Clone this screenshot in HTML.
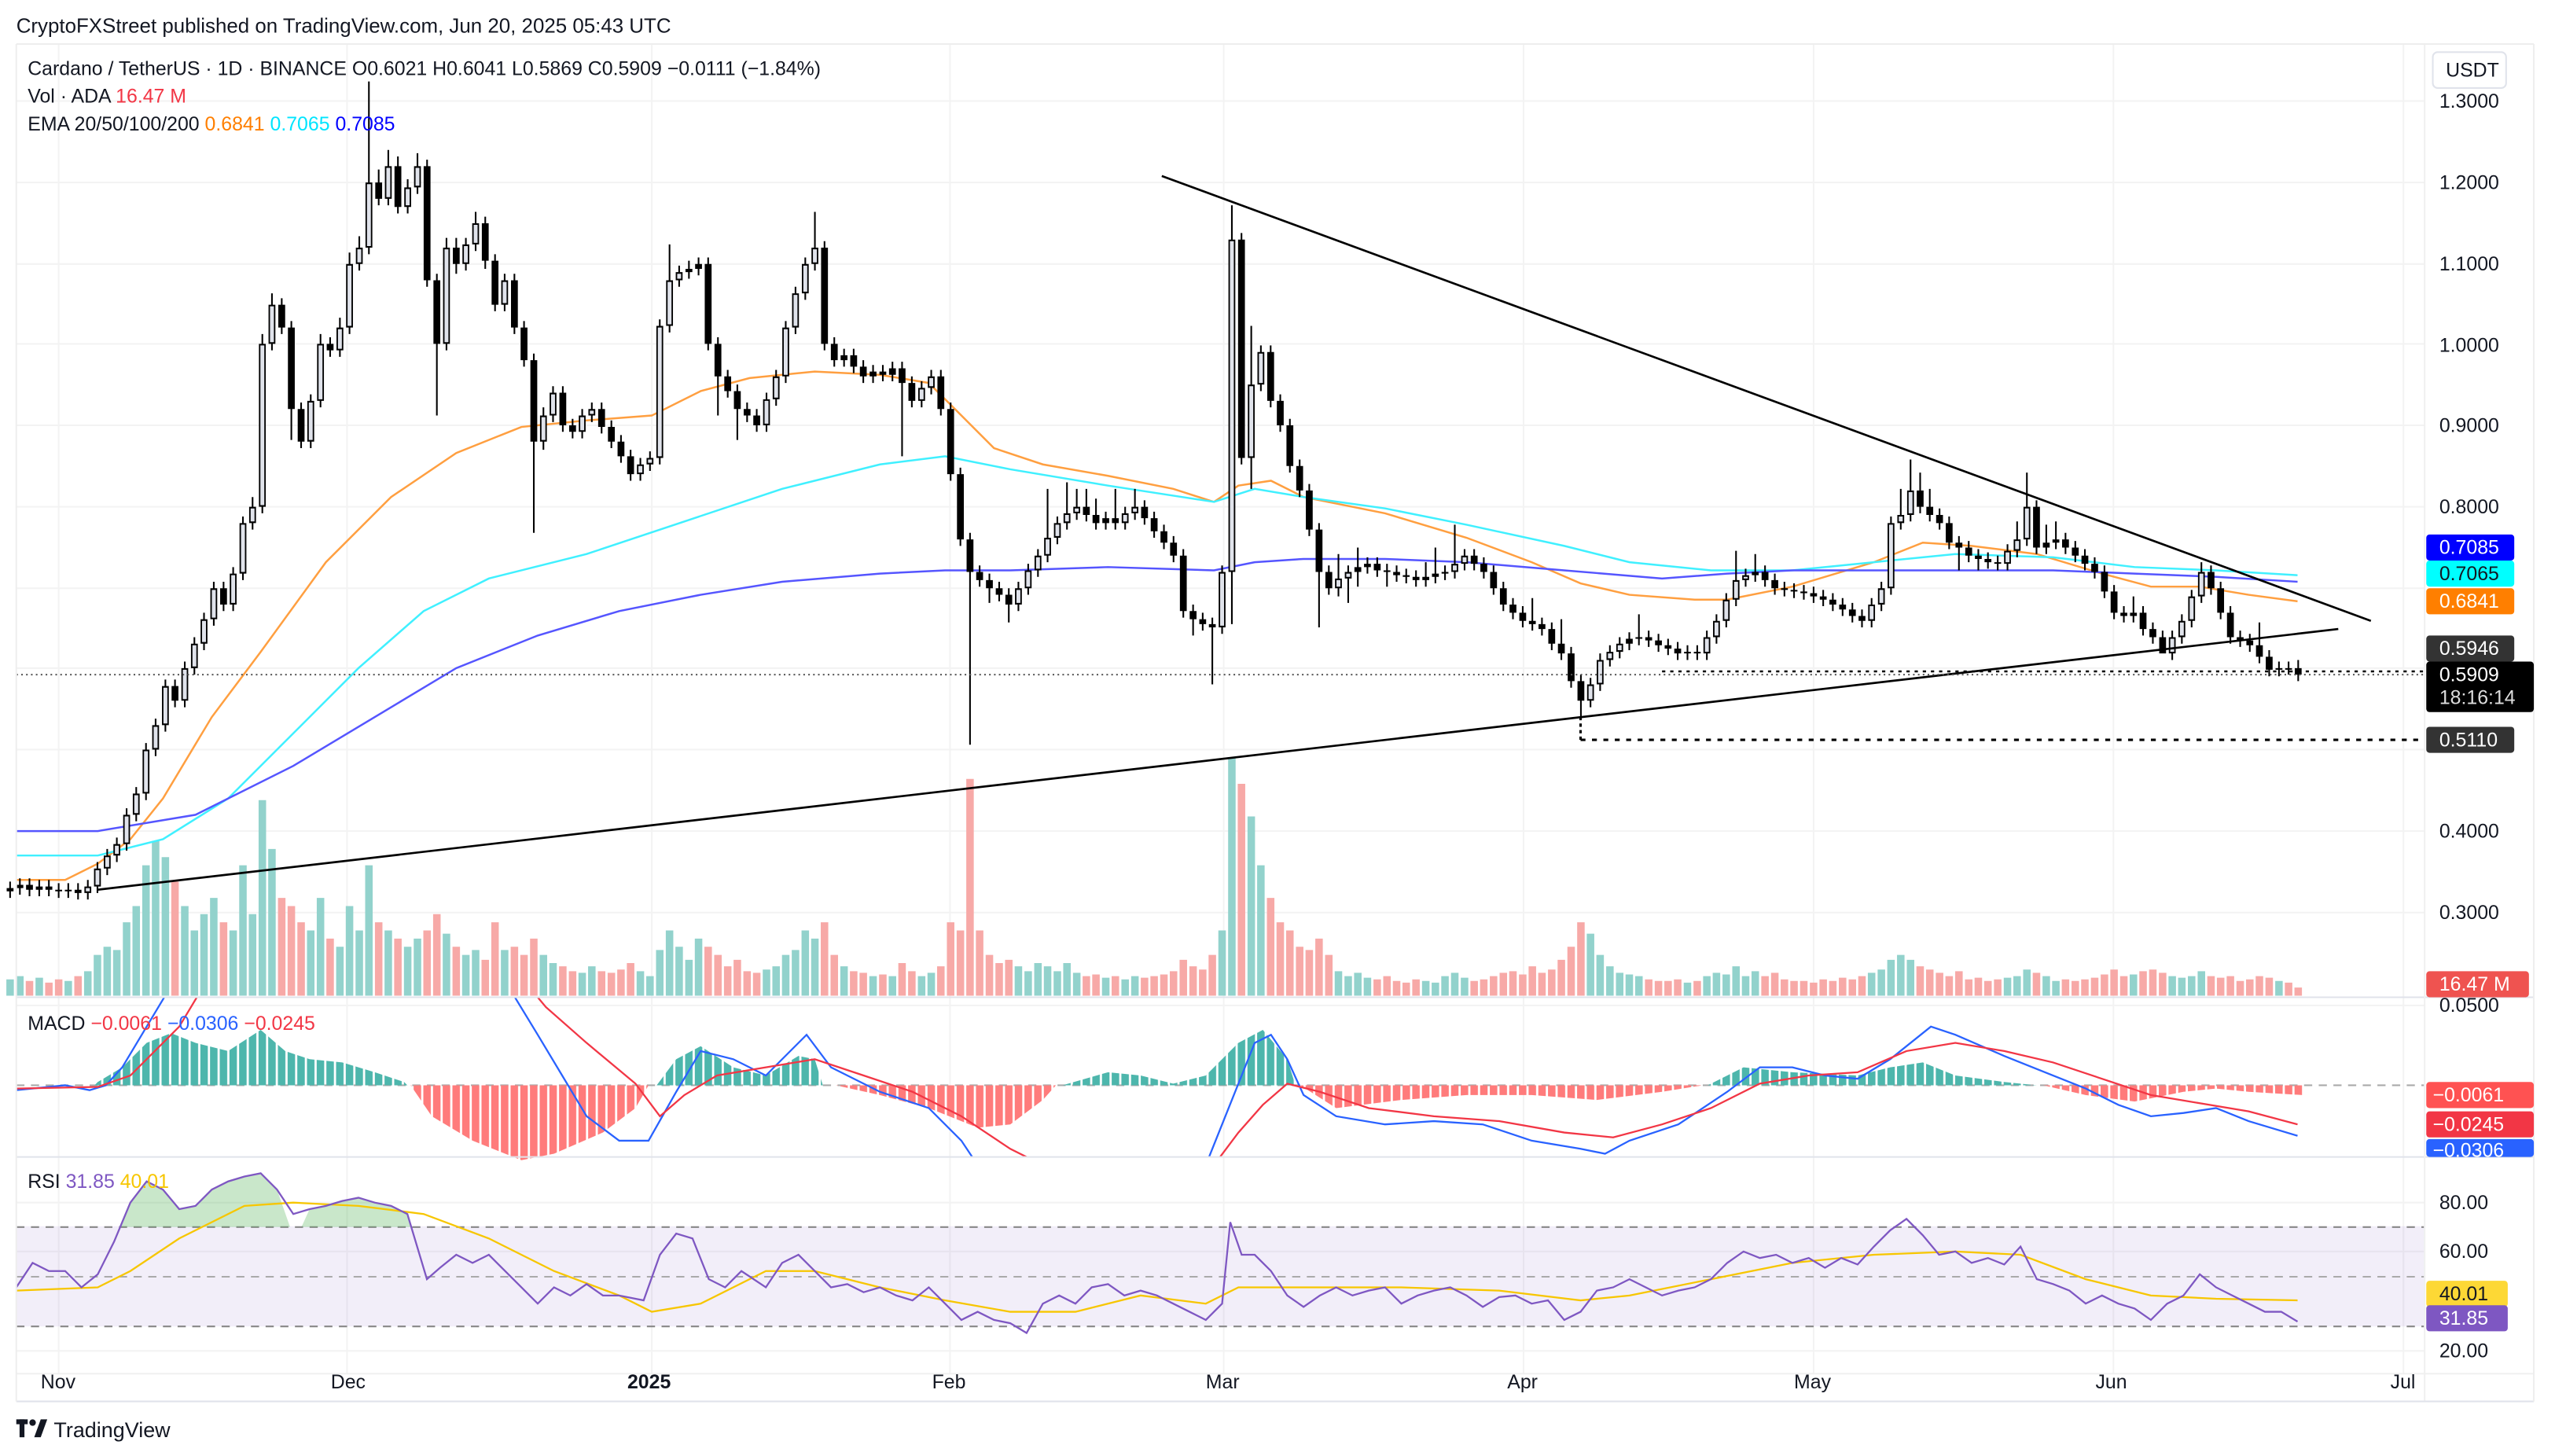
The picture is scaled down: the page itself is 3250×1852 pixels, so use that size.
<!DOCTYPE html>
<html><head><meta charset="utf-8"><style>
html,body{margin:0;padding:0;background:#fff;}
svg{display:block;font-family:"Liberation Sans",sans-serif;}
</style></head><body>
<svg width="3250" height="1852" viewBox="0 0 1568 893.5" preserveAspectRatio="none" xmlns="http://www.w3.org/2000/svg">
<defs>
<pattern id="pp" patternUnits="userSpaceOnUse" x="3.95" y="0" width="5.95" height="900"><rect x="0" y="0" width="4.6" height="900" fill="#4db6ac"/></pattern>
<pattern id="pn" patternUnits="userSpaceOnUse" x="3.95" y="0" width="5.95" height="900"><rect x="0" y="0" width="4.6" height="900" fill="#ff7b7b"/></pattern>
<clipPath id="mc"><rect x="10" y="612" width="1478" height="98"/></clipPath>
</defs>
<rect width="1568" height="893.5" fill="#fff"/>
<g stroke="#f3f3f3" stroke-width="1">
<path d="M10 62H1488M10 112H1488M10 162H1488M10 211H1488M10 261H1488M10 311H1488M10 361H1488M10 410H1488M10 460H1488M10 510H1488M10 560H1488M10 617H1488M10 738H1488M10 768H1488M10 829H1488"/>
<path d="M36 27V843M213 27V843M400 27V843M583 27V843M751 27V843M935 27V843M1113 27V843M1297 27V843M1475 27V843"/>
</g>
<rect x="10" y="752.5" width="1478" height="61.5" fill="#7e57c2" fill-opacity="0.1"/>

<!-- volume -->
<path fill="none" stroke="#92d2cc" stroke-width="4.6" d="M6.2 611V601M12.2 611V599M24.1 611V600M41.9 611V602M53.9 611V596M59.8 611V586M65.8 611V581M71.7 611V583M77.7 611V566M83.6 611V556M89.6 611V531M95.5 611V516M101.5 611V526M113.4 611V556M119.3 611V571M125.2 611V561M131.2 611V551M143.1 611V571M149.1 611V531M155.0 611V561M161.0 611V491M166.9 611V521M190.7 611V571M196.7 611V551M208.6 611V581M214.5 611V556M220.5 611V571M226.4 611V531M238.3 611V571M250.2 611V581M256.2 611V576M274.0 611V573M285.9 611V586M291.9 611V583M309.7 611V583M333.5 611V586M339.4 611V591M357.3 611V597M363.2 611V593M393.0 611V596M398.9 611V599M404.9 611V583M410.9 611V571M416.8 611V581M422.8 611V589M428.7 611V576M470.4 611V595M476.3 611V593M482.2 611V586M488.2 611V583M494.2 611V571M500.1 611V576M518.0 611V593M535.8 611V599M547.7 611V599M565.6 611V599M571.5 611V597M625.0 611V593M631.0 611V596M637.0 611V591M642.9 611V593M648.9 611V596M654.8 611V591M660.8 611V597M678.6 611V600M690.5 611V601M696.5 611V599M750.0 611V571M756.0 611V465M767.9 611V501M773.8 611V531M821.4 611V596M827.4 611V599M833.3 611V597M839.2 611V600M875.0 611V602M880.9 611V603M886.8 611V599M892.8 611V597M898.8 611V600M976.1 611V573M982.0 611V586M988.0 611V593M994.0 611V597M999.9 611V598M1005.8 611V599M1035.6 611V603M1047.5 611V599M1053.4 611V597M1059.4 611V598M1065.4 611V593M1071.3 611V599M1077.2 611V596M1148.6 611V597M1154.6 611V595M1160.5 611V589M1166.5 611V586M1172.5 611V589M1232.0 611V600M1237.9 611V599M1243.9 611V595M1255.8 611V599M1261.7 611V602M1309.3 611V598M1333.1 611V599M1339.0 611V600M1345.0 611V599M1351.0 611V596M1398.6 611V602"/>
<path fill="none" stroke="#f7a9a7" stroke-width="4.6" d="M18.1 611V602M30.0 611V603M36.0 611V601M47.9 611V599M107.4 611V541M137.2 611V566M172.9 611V551M178.8 611V556M184.8 611V566M202.6 611V576M232.4 611V566M244.2 611V576M262.1 611V571M268.1 611V561M280.0 611V581M297.8 611V589M303.8 611V566M315.7 611V581M321.6 611V586M327.6 611V576M345.4 611V593M351.4 611V596M369.2 611V596M375.2 611V597M381.1 611V595M387.0 611V591M434.6 611V581M440.6 611V586M446.6 611V593M452.5 611V589M458.5 611V596M464.4 611V597M506.0 611V566M512.0 611V586M523.9 611V596M529.8 611V597M541.8 611V598M553.6 611V591M559.6 611V596M577.4 611V593M583.4 611V566M589.4 611V571M595.3 611V478M601.2 611V571M607.2 611V586M613.2 611V591M619.1 611V589M666.7 611V599M672.6 611V598M684.5 611V599M702.4 611V600M708.3 611V599M714.3 611V598M720.2 611V596M726.2 611V589M732.2 611V593M738.1 611V595M744.0 611V586M761.9 611V481M779.8 611V551M785.7 611V566M791.6 611V571M797.6 611V581M803.5 611V583M809.5 611V576M815.5 611V586M845.2 611V601M851.2 611V599M857.1 611V602M863.0 611V603M869.0 611V601M904.7 611V602M910.6 611V601M916.6 611V599M922.6 611V597M928.5 611V596M934.5 611V598M940.4 611V593M946.3 611V597M952.3 611V595M958.2 611V589M964.2 611V581M970.2 611V566M1011.8 611V601M1017.8 611V602M1023.7 611V602M1029.6 611V601M1041.6 611V602M1083.2 611V599M1089.2 611V597M1095.1 611V601M1101.0 611V602M1107.0 611V602M1113.0 611V603M1118.9 611V601M1124.8 611V602M1130.8 611V600M1136.8 611V601M1142.7 611V599M1178.4 611V593M1184.3 611V595M1190.3 611V597M1196.2 611V599M1202.2 611V596M1208.2 611V601M1214.1 611V600M1220.0 611V602M1226.0 611V601M1249.8 611V597M1267.6 611V601M1273.6 611V602M1279.5 611V601M1285.5 611V600M1291.5 611V598M1297.4 611V595M1303.4 611V599M1315.2 611V596M1321.2 611V595M1327.2 611V597M1356.9 611V599M1362.8 611V600M1368.8 611V599M1374.8 611V602M1380.7 611V601M1386.6 611V599M1392.6 611V600M1404.5 611V603M1410.4 611V606"/>

<!-- EMA lines -->
<g fill="none" stroke-width="1.2">
<polyline stroke="#ff9f40" points="10,540 40,540 60,530 80,515 100,490 130,440 160,400 200,345 240,305 280,278 320,262 360,258 400,255 430,240 460,232 500,228 540,230 570,235 590,255 610,275 640,285 680,292 720,300 745,308 760,298 780,295 800,305 850,315 900,330 940,345 970,358 1000,365 1040,368 1060,368 1100,360 1150,345 1180,333 1210,335 1250,340 1290,352 1320,360 1350,360 1380,365 1410,369"/>
<polyline stroke="#40f0ff" points="10,525 60,525 100,515 140,490 180,450 220,410 260,375 300,355 360,340 420,320 480,300 540,285 580,280 620,288 680,298 745,308 770,300 800,305 850,312 900,322 960,335 1000,345 1050,350 1100,350 1150,345 1200,340 1260,342 1310,348 1360,350 1410,353"/>
<polyline stroke="#5555ff" points="10,510 60,510 120,500 180,470 230,440 280,410 330,390 380,375 430,365 480,357 540,352 580,350 620,350 680,348 745,350 770,345 800,343 850,343 900,345 960,350 1020,355 1060,352 1100,350 1160,350 1200,350 1260,350 1310,352 1360,354 1410,357"/>
</g>

<!-- candles: wicks -->
<path fill="none" stroke="#000" stroke-width="1" d="M6.2 541V551M12.2 539V549M18.1 539V550M24.1 540V550M30.0 540V550M36.0 542V551M41.9 542V551M47.9 542V552M53.9 540V552M59.8 529V548M65.8 521V537M71.7 514V529M77.7 496V522M83.6 483V504M89.6 456V491M95.5 441V464M101.5 417V449M107.4 417V434M113.4 406V434M119.3 391V414M125.2 376V399M131.2 357V384M137.2 357V375M143.1 348V375M149.1 317V356M155.0 305V325M161.0 205V315M166.9 180V215M172.9 183V205M178.8 197V270M184.8 247V275M190.7 242V275M196.7 205V250M202.6 207V219M208.6 195V219M214.5 155V205M220.5 145V166M226.4 50V156M232.4 104V126M238.3 92V126M244.2 96V131M250.2 110V131M256.2 94V119M262.1 98V176M268.1 168V255M274.0 146V215M280.0 146V168M285.9 146V166M291.9 130V154M297.8 133V165M303.8 156V191M309.7 168V191M315.7 168V205M321.6 197V225M327.6 217V327M333.5 250V276M339.4 237V259M345.4 237V265M351.4 257V269M357.3 251V269M363.2 247V259M369.2 247V266M375.2 258V275M381.1 267V284M387.0 276V295M393.0 281V295M398.9 277V289M404.9 196V285M410.9 150V204M416.8 163V176M422.8 160V171M428.7 158V169M434.6 158V215M440.6 207V255M446.6 227V244M452.5 236V270M458.5 247V259M464.4 251V265M470.4 241V265M476.3 227V249M482.2 197V235M488.2 176V205M494.2 158V184M500.1 130V166M506.0 148V215M512.0 207V225M518.0 214V225M523.9 214V229M529.8 221V235M535.8 224V235M541.8 224V234M547.7 222V234M553.6 222V280M559.6 231V250M565.6 234V250M571.5 227V242M577.4 227V255M583.4 247V295M589.4 287V335M595.3 327V457M601.2 347V360M607.2 352V370M613.2 357V369M619.1 361V382M625.0 357V375M631.0 346V365M637.0 337V354M642.9 300V345M648.9 317V334M654.8 296V325M660.8 300V319M666.7 300V320M672.6 306V325M678.6 314V325M684.5 300V325M690.5 311V325M696.5 300V319M702.4 307V322M708.3 314V330M714.3 322V337M720.2 329V345M726.2 337V379M732.2 371V390M738.1 376V387M744.0 379V420M750.0 347V389M756.0 126V383M761.9 143V285M767.9 200V300M773.8 212V240M779.8 212V250M785.7 242V265M791.6 257V290M797.6 282V305M803.5 297V329M809.5 321V385M815.5 347V365M821.4 340V366M827.4 347V370M833.3 336V360M839.2 342V352M845.2 342V354M851.2 346V360M857.1 347V357M863.0 349V358M869.0 350V360M875.0 345V360M880.9 336V358M886.8 347V356M892.8 322V355M898.8 337V350M904.7 337V350M910.6 342V355M916.6 347V365M922.6 357V375M928.5 367V380M934.5 372V385M940.4 367V387M946.3 379V390M952.3 382V399M958.2 380V405M964.2 397V422M970.2 414V440M976.1 416V434M982.0 401V424M988.0 396V409M994.0 391V404M999.9 388V399M1005.8 377V396M1011.8 387V397M1017.8 389V400M1023.7 392V402M1029.6 394V405M1035.6 396V405M1041.6 396V405M1047.5 387V405M1053.4 377V395M1059.4 364V385M1065.4 338V372M1071.3 349V360M1077.2 340V357M1083.2 347V360M1089.2 352V365M1095.1 357V366M1101.0 358V367M1107.0 359V368M1113.0 360V370M1118.9 362V372M1124.8 364V375M1130.8 367V378M1136.8 370V382M1142.7 374V385M1148.6 367V385M1154.6 357V375M1160.5 317V365M1166.5 300V325M1172.5 282V320M1178.4 290V315M1184.3 300V320M1190.3 312V325M1196.2 317V337M1202.2 329V350M1208.2 332V345M1214.1 337V350M1220.0 339V349M1226.0 341V350M1232.0 334V350M1237.9 320V342M1243.9 290V335M1249.8 307V340M1255.8 322V340M1261.7 320V337M1267.6 327V340M1273.6 332V345M1279.5 337V350M1285.5 342V355M1291.5 347V367M1297.4 359V380M1303.4 372V382M1309.3 366V382M1315.2 372V390M1321.2 382V395M1327.2 387V400M1333.1 387V405M1339.0 377V395M1345.0 362V385M1351.0 345V370M1356.9 347V365M1362.8 357V380M1368.8 372V395M1374.8 387V397M1380.7 389V400M1386.6 382V407M1392.6 399V415M1398.6 406V415M1404.5 406V414M1410.4 405V418"/>
<!-- candle bodies (outline / bearish) -->
<path fill="none" stroke="#000" stroke-width="4.2" d="M6.2 545V547M12.2 543V545M18.1 543V546M24.1 544V546M30.0 544V546M36.0 546V547M41.9 546V547M47.9 546V548M53.9 544V548M59.8 533V544M65.8 525V533M71.7 518V525M77.7 500V518M83.6 487V500M89.6 460V487M95.5 445V460M101.5 421V445M107.4 421V430M113.4 410V430M119.3 395V410M125.2 380V395M131.2 361V380M137.2 361V371M143.1 352V371M149.1 321V352M155.0 311V321M161.0 211V311M166.9 187V211M172.9 187V201M178.8 201V251M184.8 251V271M190.7 246V271M196.7 211V246M202.6 211V215M208.6 201V215M214.5 162V201M220.5 152V162M226.4 112V152M232.4 112V122M238.3 102V122M244.2 102V127M250.2 115V127M256.2 102V115M262.1 102V172M268.1 172V211M274.0 152V211M280.0 152V162M285.9 150V162M291.9 137V150M297.8 137V160M303.8 160V187M309.7 172V187M315.7 172V201M321.6 201V221M327.6 221V271M333.5 255V271M339.4 241V255M345.4 241V261M351.4 261V265M357.3 255V265M363.2 251V255M369.2 251V262M375.2 262V271M381.1 271V280M387.0 280V291M393.0 285V291M398.9 281V285M404.9 200V281M410.9 172V200M416.8 167V172M422.8 165V167M428.7 162V165M434.6 162V211M440.6 211V231M446.6 231V240M452.5 240V251M458.5 251V255M464.4 255V261M470.4 245V261M476.3 231V245M482.2 201V231M488.2 180V201M494.2 162V180M500.1 152V162M506.0 152V211M512.0 211V221M518.0 218V221M523.9 218V225M529.8 225V231M535.8 228V231M541.8 228V230M547.7 226V230M553.6 226V235M559.6 235V246M565.6 238V246M571.5 231V238M577.4 231V251M583.4 251V291M589.4 291V331M595.3 331V351M601.2 351V356M607.2 356V361M613.2 361V365M619.1 365V371M625.0 361V371M631.0 350V361M637.0 341V350M642.9 330V341M648.9 321V330M654.8 315V321M660.8 311V315M666.7 311V316M672.6 316V321M678.6 318V321M684.5 318V321M690.5 315V321M696.5 311V315M702.4 311V318M708.3 318V326M714.3 326V333M720.2 333V341M726.2 341V375M732.2 375V380M738.1 380V383M744.0 383V385M750.0 351V385M756.0 147V351M761.9 147V281M767.9 236V281M773.8 216V236M779.8 216V246M785.7 246V261M791.6 261V286M797.6 286V301M803.5 301V325M809.5 325V351M815.5 351V361M821.4 355V361M827.4 351V355M833.3 348V351M839.2 346V348M845.2 346V350M851.2 350V351M857.1 351V353M863.0 353V354M869.0 354V356M875.0 354V356M880.9 352V354M886.8 351V352M892.8 346V351M898.8 341V346M904.7 341V346M910.6 346V351M916.6 351V361M922.6 361V371M928.5 371V376M934.5 376V381M940.4 381V383M946.3 383V386M952.3 386V395M958.2 395V401M964.2 401V418M970.2 418V430M976.1 420V430M982.0 405V420M988.0 400V405M994.0 395V400M999.9 392V395M1005.8 391V392M1011.8 391V393M1017.8 393V396M1023.7 396V398M1029.6 398V401M1035.6 400V401M1041.6 400V401M1047.5 391V401M1053.4 381V391M1059.4 368V381M1065.4 356V368M1071.3 353V356M1077.2 351V353M1083.2 351V356M1089.2 356V361M1095.1 361V362M1101.0 362V363M1107.0 363V364M1113.0 364V366M1118.9 366V368M1124.8 368V371M1130.8 371V374M1136.8 374V378M1142.7 378V381M1148.6 371V381M1154.6 361V371M1160.5 321V361M1166.5 316V321M1172.5 301V316M1178.4 301V311M1184.3 311V316M1190.3 316V321M1196.2 321V333M1202.2 333V336M1208.2 336V341M1214.1 341V343M1220.0 343V345M1226.0 345V346M1232.0 338V346M1237.9 331V338M1243.9 311V331M1249.8 311V336M1255.8 333V336M1261.7 331V333M1267.6 331V336M1273.6 336V341M1279.5 341V346M1285.5 346V351M1291.5 351V363M1297.4 363V376M1303.4 376V378M1309.3 376V378M1315.2 376V386M1321.2 386V391M1327.2 391V401M1333.1 391V401M1339.0 381V391M1345.0 366V381M1351.0 351V366M1356.9 351V361M1362.8 361V376M1368.8 376V391M1374.8 391V393M1380.7 393V396M1386.6 396V403M1392.6 403V411M1398.6 410V411M1404.5 410V411M1410.4 410V414"/>
<!-- bullish inner fill -->
<path fill="none" stroke="#e0e3eb" stroke-width="2.4" d="M53.9 545V547M59.8 534V543M65.8 526V532M71.7 519V524M77.7 501V517M83.6 488V499M89.6 461V486M95.5 446V459M101.5 422V444M113.4 411V429M119.3 396V409M125.2 381V394M131.2 362V379M143.1 353V370M149.1 322V351M155.0 312V320M161.0 212V310M166.9 188V210M190.7 247V270M196.7 212V245M208.6 202V214M214.5 163V200M220.5 153V161M226.4 113V151M238.3 103V121M250.2 116V126M256.2 103V114M274.0 153V210M285.9 151V161M291.9 138V149M309.7 173V186M333.5 256V270M339.4 242V254M357.3 256V264M363.2 252V254M393.0 286V290M398.9 282V284M404.9 201V280M410.9 173V199M416.8 168V171M470.4 246V260M476.3 232V244M482.2 202V230M488.2 181V200M494.2 163V179M500.1 153V161M565.6 239V245M571.5 232V237M625.0 362V370M631.0 351V360M637.0 342V349M642.9 331V340M648.9 322V329M654.8 316V320M660.8 312V314M690.5 316V320M696.5 312V314M750.0 352V384M756.0 148V350M767.9 237V280M773.8 217V235M821.4 356V360M827.4 352V354M892.8 347V350M898.8 342V345M976.1 421V429M982.0 406V419M988.0 401V404M994.0 396V399M1047.5 392V400M1053.4 382V390M1059.4 369V380M1065.4 357V367M1071.3 354V355M1148.6 372V380M1154.6 362V370M1160.5 322V360M1166.5 317V320M1172.5 302V315M1232.0 339V345M1237.9 332V337M1243.9 312V330M1333.1 392V400M1339.0 382V390M1345.0 367V380M1351.0 352V365"/>

<!-- trend lines -->
<line x1="713" y1="108" x2="1455" y2="381" stroke="#000" stroke-width="1.3"/>
<line x1="60" y1="546" x2="1435" y2="386" stroke="#000" stroke-width="1.3"/>
<line x1="10" y1="414" x2="1488" y2="414" stroke="#555" stroke-width="1" stroke-dasharray="1,2"/>
<line x1="1020" y1="412" x2="1488" y2="412" stroke="#000" stroke-width="1.2" stroke-dasharray="2,3"/>
<line x1="970" y1="454" x2="1488" y2="454" stroke="#000" stroke-width="1.5" stroke-dasharray="3,4"/>
<line x1="970" y1="440" x2="970" y2="454" stroke="#000" stroke-width="1.5" stroke-dasharray="2,2"/>

<!-- MACD -->
<line x1="10" y1="666" x2="1488" y2="666" stroke="#aaa" stroke-dasharray="5,4"/>
<polygon fill="url(#pp)" points="58,666 60,664 75,655 90,640 105,634 120,640 140,645 160,632 175,645 190,650 210,652 230,658 248,664 250,666"/>
<polygon fill="url(#pn)" points="252,666 265,685 290,700 320,712 340,708 370,695 390,680 398,666"/>
<polygon fill="url(#pp)" points="403,666 415,650 430,642 450,655 470,660 490,648 500,650 505,666"/>
<polygon fill="url(#pn)" points="513,666 540,672 570,680 600,692 620,690 640,675 648,666"/>
<polygon fill="url(#pp)" points="652,666 680,658 700,660 720,665 740,660 760,640 775,632 790,650 795,666"/>
<polygon fill="url(#pn)" points="798,666 820,680 860,675 900,672 940,672 980,675 1020,670 1045,666"/>
<polygon fill="url(#pp)" points="1048,666 1070,655 1100,658 1140,660 1160,655 1180,652 1200,660 1230,664 1250,666"/>
<polygon fill="url(#pn)" points="1254,666 1280,672 1310,676 1340,670 1360,668 1380,670 1413,672 1413,666"/>
<g clip-path="url(#mc)" fill="none" stroke-width="1.1">
<polyline stroke="#2962ff" points="10,669 40,666 55,669 65,666 75,655 90,630 105,605 115,590 300,590 316,612 330,635 345,660 360,685 380,700 398,700 415,670 430,645 450,650 470,660 495,635 510,655 540,670 570,680 590,700 600,715 740,715 750,690 760,665 770,640 780,635 790,650 800,672 820,685 850,690 880,688 910,690 940,700 970,705 985,708 1000,700 1030,690 1060,670 1080,655 1100,655 1120,660 1140,662 1160,650 1185,630 1200,635 1230,648 1260,660 1280,668 1300,678 1320,685 1340,683 1360,680 1380,688 1410,697"/>
<polyline stroke="#f23645" points="10,668 60,667 80,660 110,630 125,605 320,600 335,618 360,640 390,665 405,685 420,672 440,660 470,655 500,650 530,660 560,670 590,685 620,705 640,715 745,715 760,695 775,678 790,665 810,670 840,680 880,685 920,688 960,695 990,698 1020,690 1050,680 1080,665 1110,660 1140,658 1170,645 1200,640 1230,645 1260,652 1290,662 1320,672 1350,677 1380,682 1410,690"/>
</g>

<!-- RSI -->
<line x1="10" y1="753" x2="1488" y2="753" stroke="#888" stroke-dasharray="5,4"/>
<line x1="10" y1="783.5" x2="1488" y2="783.5" stroke="#aaa" stroke-dasharray="5,4"/>
<line x1="10" y1="814" x2="1488" y2="814" stroke="#888" stroke-dasharray="5,4"/>
<polygon fill="#4caf50" fill-opacity="0.3" points="74,753 80,738 90,725 100,730 110,742 120,740 130,730 140,725 150,722 160,720 170,730 178,753 185,753 190,742 200,740 210,737 220,735 230,738 240,740 250,745 252,753"/>
<polyline fill="none" stroke="#f7c600" stroke-width="1.1" points="10,792 60,790 80,780 110,760 150,740 180,738 220,740 260,745 300,760 340,780 380,795 400,805 430,800 470,780 500,780 540,790 580,798 620,805 660,805 700,795 740,800 760,790 800,790 860,790 920,792 970,798 1000,795 1050,785 1100,775 1150,770 1200,768 1240,770 1280,785 1320,795 1360,797 1410,798"/>
<polyline fill="none" stroke="#7e57c2" stroke-width="1.1" points="10,790 20,775 30,780 40,780 50,790 60,782 70,762 80,738 90,725 100,730 110,742 120,740 130,730 140,725 150,722 160,720 170,730 180,745 190,742 200,740 210,737 220,735 230,738 240,740 250,745 262,785 270,778 280,770 290,775 300,770 320,790 330,800 340,790 350,795 360,788 370,795 380,795 395,798 405,770 415,757 425,760 435,785 445,790 455,780 470,790 480,775 490,770 500,780 510,790 520,788 530,793 540,790 550,795 560,798 570,790 580,800 590,810 600,805 610,810 620,812 630,818 640,800 650,795 660,800 670,790 680,788 690,795 700,792 710,795 720,800 730,805 740,810 750,800 755,750 762,770 770,770 780,780 790,795 800,802 810,795 820,790 830,795 840,792 850,790 860,800 870,795 880,792 890,790 900,795 910,802 920,796 930,795 940,800 950,798 960,810 970,805 980,792 990,790 1000,785 1010,790 1020,795 1030,792 1040,790 1050,785 1060,775 1070,768 1080,772 1090,770 1100,775 1110,772 1120,778 1130,772 1140,776 1150,765 1160,755 1170,748 1180,758 1190,770 1200,768 1210,775 1220,772 1230,776 1240,765 1250,785 1260,788 1270,792 1280,800 1290,795 1300,800 1310,803 1320,810 1330,800 1340,795 1350,782 1360,790 1370,795 1380,800 1390,805 1400,805 1410,811"/>

<!-- separators / frame -->
<line x1="10" y1="612" x2="1555" y2="612" stroke="#e0e3eb" stroke-width="1"/>
<line x1="10" y1="710" x2="1555" y2="710" stroke="#e0e3eb" stroke-width="1"/>
<line x1="10" y1="843" x2="1555" y2="843" stroke="#f0f0f0" stroke-width="1"/>
<line x1="1488" y1="27" x2="1488" y2="860" stroke="#f0f0f0" stroke-width="1"/>
<line x1="10" y1="860" x2="1555" y2="860" stroke="#e0e3eb" stroke-width="1"/>
<line x1="10" y1="27" x2="1555" y2="27" stroke="#eee" stroke-width="1"/>
<line x1="10" y1="27" x2="10" y2="860" stroke="#eee" stroke-width="1"/>
<line x1="1555" y1="27" x2="1555" y2="860" stroke="#eee" stroke-width="1"/>

<!-- header texts -->
<text x="10" y="20" font-size="12.5" fill="#131722">CryptoFXStreet published on TradingView.com, Jun 20, 2025 05:43 UTC</text>
<text x="17" y="46" font-size="12" fill="#131722">Cardano / TetherUS · 1D · BINANCE  O0.6021  H0.6041  L0.5869  C0.5909  −0.0111 (−1.84%)</text>
<text x="17" y="63" font-size="12" fill="#131722">Vol · ADA <tspan fill="#f23645">16.47 M</tspan></text>
<text x="17" y="80" font-size="12" fill="#131722">EMA 20/50/100/200 <tspan fill="#ff7f00">0.6841</tspan> <tspan fill="#00e5ff">0.7065</tspan> <tspan fill="#0000ff">0.7085</tspan></text>
<text x="17" y="632" font-size="12" fill="#131722">MACD <tspan fill="#f23645">−0.0061</tspan> <tspan fill="#2962ff">−0.0306</tspan> <tspan fill="#f23645">−0.0245</tspan></text>
<text x="17" y="729" font-size="12" fill="#131722">RSI <tspan fill="#7e57c2">31.85</tspan> <tspan fill="#f7c600">40.01</tspan></text>

<!-- price axis -->
<g font-size="12" fill="#131722">
<rect x="1493" y="32" width="45" height="22" rx="3" fill="#fff" stroke="#e0e3eb"/>
<text x="1501" y="47">USDT</text>
<text x="1497" y="66">1.3000</text>
<text x="1497" y="116">1.2000</text>
<text x="1497" y="166">1.1000</text>
<text x="1497" y="216">1.0000</text>
<text x="1497" y="265">0.9000</text>
<text x="1497" y="315">0.8000</text>
<text x="1497" y="514">0.4000</text>
<text x="1497" y="564">0.3000</text>
<text x="1497" y="621">0.0500</text>
<text x="1497" y="742">80.00</text>
<text x="1497" y="772">60.00</text>
<text x="1497" y="833">20.00</text>
</g>
<g font-size="12">
<rect x="1489" y="328" width="54" height="16" rx="2" fill="#0000ff"/><text x="1497" y="340" fill="#fff">0.7085</text>
<rect x="1489" y="344" width="54" height="16" rx="2" fill="#00ffff"/><text x="1497" y="356" fill="#131722">0.7065</text>
<rect x="1489" y="361" width="54" height="16" rx="2" fill="#ff7f00"/><text x="1497" y="373" fill="#fff">0.6841</text>
<rect x="1489" y="390" width="54" height="16" rx="2" fill="#333"/><text x="1497" y="402" fill="#fff">0.5946</text>
<rect x="1489" y="406" width="66" height="31" rx="2" fill="#000"/><text x="1497" y="418" fill="#fff">0.5909</text><text x="1497" y="432" fill="#ddd">18:16:14</text>
<rect x="1489" y="446" width="54" height="16" rx="2" fill="#333"/><text x="1497" y="458" fill="#fff">0.5110</text>
<rect x="1489" y="596" width="63" height="16" rx="2" fill="#ef5350"/><text x="1497" y="608" fill="#fff">16.47 M</text>
<rect x="1489" y="664" width="66" height="16" rx="2" fill="#ff5252"/><text x="1493" y="676" fill="#fff">−0.0061</text>
<rect x="1489" y="682" width="66" height="16" rx="2" fill="#f23645"/><text x="1493" y="694" fill="#fff">−0.0245</text>
<rect x="1489" y="699" width="66" height="11" rx="2" fill="#2962ff"/><text x="1493" y="710" fill="#fff">−0.0306</text>
<rect x="1489" y="786" width="50" height="16" rx="2" fill="#fdd835"/><text x="1497" y="798" fill="#131722">40.01</text>
<rect x="1489" y="801" width="50" height="16" rx="2" fill="#7e57c2"/><text x="1497" y="813" fill="#fff">31.85</text>
</g>
<!-- time axis -->
<g font-size="12" fill="#131722">
<text x="25" y="852">Nov</text>
<text x="203" y="852">Dec</text>
<text x="385" y="852" font-weight="bold">2025</text>
<text x="572" y="852">Feb</text>
<text x="740" y="852">Mar</text>
<text x="925" y="852">Apr</text>
<text x="1101" y="852">May</text>
<text x="1286" y="852">Jun</text>
<text x="1467" y="852">Jul</text>
</g>
<g>
<rect x="10" y="871" width="7" height="3" fill="#131722"/><rect x="12" y="871" width="3" height="11" fill="#131722"/>
<circle cx="20" cy="873" r="2" fill="#131722"/><polygon points="21,882 25,871 29,871 25,882" fill="#131722"/>
<text x="33" y="882" font-size="13" fill="#131722">TradingView</text>
</g>
</svg>
</body></html>
